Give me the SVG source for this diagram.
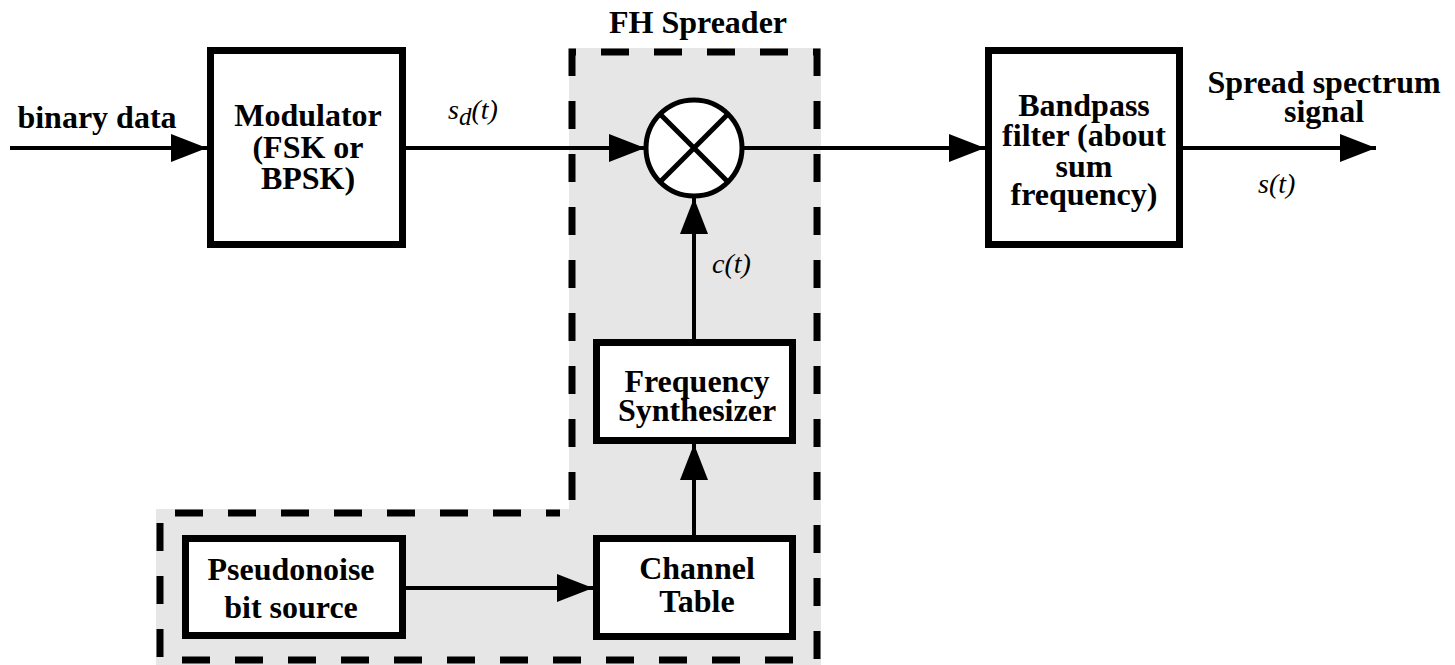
<svg xmlns="http://www.w3.org/2000/svg" width="1455" height="665" viewBox="0 0 1455 665">
<style>
.box{fill:#fff;stroke:#000;stroke-width:7}
.t{font-family:"Liberation Serif","Times New Roman",serif;font-weight:bold;font-size:32px;fill:#000;text-anchor:middle}
.m{font-family:"Liberation Serif","Times New Roman",serif;font-style:italic;font-size:28px;fill:#000}
.ln{fill:none;stroke:#000;stroke-width:4}
</style>
<defs>
<marker id="ah" markerUnits="userSpaceOnUse" markerWidth="36" markerHeight="28" refX="36" refY="14" orient="auto">
<path d="M0,0 L36,14 L0,28 Z" fill="#000"/>
</marker>
</defs>
<rect width="1455" height="665" fill="#fff"/>
<g id="fh-spreader">
<path d="M569,48 H821 V665 H156 V509 H569 Z" fill="#e6e6e6"/>
<path d="M572,500 V52 H817 V660 H160 V513 H560" fill="none" stroke="#000" stroke-width="7" stroke-dasharray="28 25"/>
<text class="t" x="698" y="33">FH Spreader</text>
</g>
<g id="connectors">
<path class="ln" d="M10,148 H207" marker-end="url(#ah)"/>
<path class="ln" d="M406,148 H645" marker-end="url(#ah)"/>
<path class="ln" d="M744,148 H985" marker-end="url(#ah)"/>
<path class="ln" d="M1183,148 H1376" marker-end="url(#ah)"/>
<path class="ln" d="M694,339 V198" marker-end="url(#ah)"/>
<path class="ln" d="M694,535 V444" marker-end="url(#ah)"/>
<path class="ln" d="M406,588 H593" marker-end="url(#ah)"/>
</g>
<g id="labels">
<text class="t" x="97" y="128">binary data</text>
<text class="m" x="448" y="119">s<tspan font-size="25" dy="6">d</tspan><tspan dy="-6">(t)</tspan></text>
<text class="t" x="1324" y="93">Spread spectrum</text>
<text class="t" x="1324" y="122">signal</text>
<text class="m" x="1258" y="193">s(t)</text>
<text class="m" x="712" y="273">c(t)</text>
</g>
<g id="modulator">
<rect class="box" x="210.5" y="50.5" width="192" height="194"/>
<text class="t" x="308" y="126">Modulator</text>
<text class="t" x="308" y="158">(FSK or</text>
<text class="t" x="308" y="189">BPSK)</text>
</g>
<g id="multiplier">
<circle cx="694" cy="148" r="48" fill="#fff" stroke="#000" stroke-width="5"/>
<path d="M660,114 L728,182 M728,114 L660,182" stroke="#000" stroke-width="5"/>
</g>
<g id="bandpass">
<rect class="box" x="988.5" y="50.5" width="191" height="194"/>
<text class="t" x="1084" y="116">Bandpass</text>
<text class="t" x="1084" y="146">filter (about</text>
<text class="t" x="1084" y="177">sum</text>
<text class="t" x="1084" y="205">frequency)</text>
</g>
<g id="freq-synth">
<rect class="box" x="596.5" y="342.5" width="196" height="98"/>
<text class="t" x="697" y="392">Frequency</text>
<text class="t" x="697" y="421">Synthesizer</text>
</g>
<g id="channel-table">
<rect class="box" x="596.5" y="538.5" width="196" height="98"/>
<text class="t" x="697" y="579">Channel</text>
<text class="t" x="697" y="612">Table</text>
</g>
<g id="pn-source">
<rect class="box" x="185.5" y="538.5" width="217" height="97"/>
<text class="t" x="291" y="580">Pseudonoise</text>
<text class="t" x="291" y="618">bit source</text>
</g>
</svg>
